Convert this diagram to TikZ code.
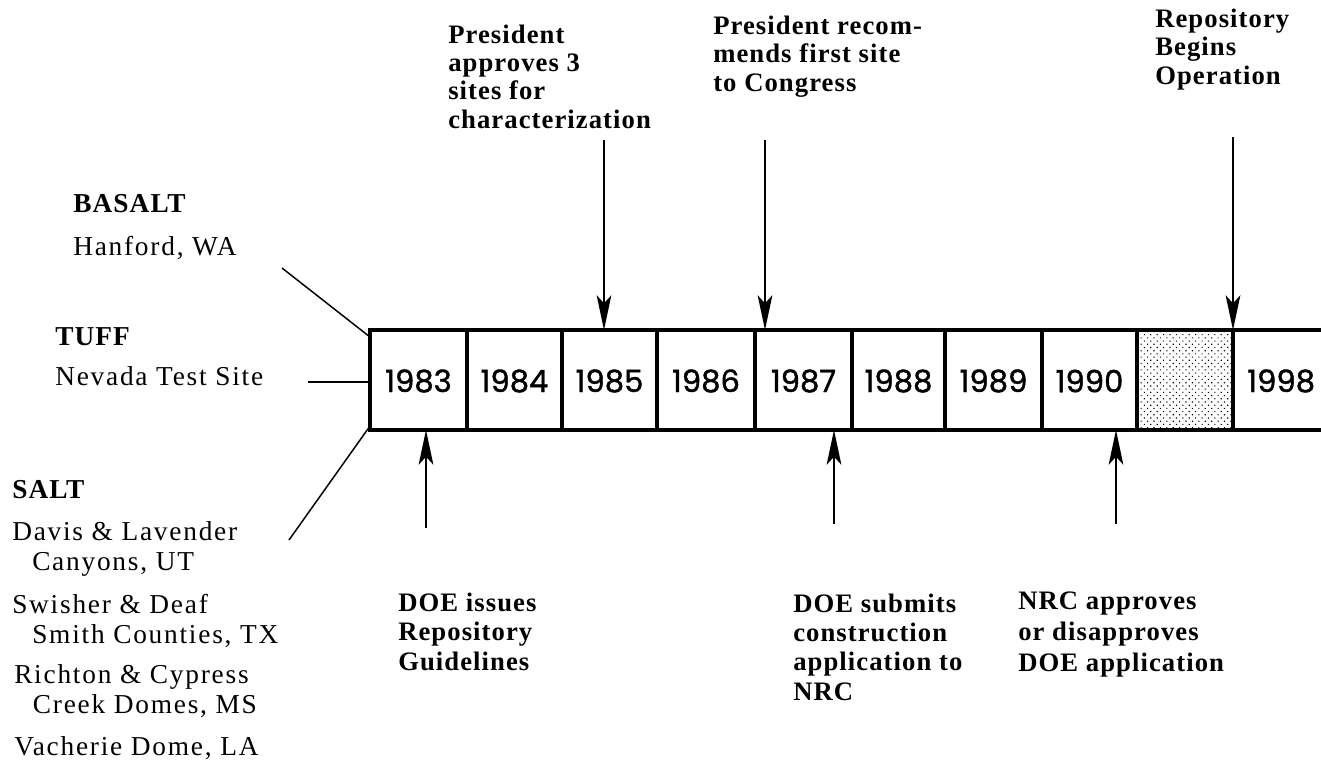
\documentclass[tikz,border=0pt]{standalone}
\usepackage{fontspec}
\setmainfont{Liberation Serif}[LetterSpace=4]
\newfontfamily\labfont{Liberation Serif}[LetterSpace=6.5]
\newfontfamily\yearfont{Poppins}[FakeBold=1.2]
\usetikzlibrary{arrows.meta,patterns.meta}
\begin{document}
\begin{tikzpicture}[x=0.75pt,y=-0.75pt,
  ev/.style={anchor=base west, align=left, inner sep=0pt, font=\fontsize{20}{21.25}\selectfont\bfseries},
  evb/.style={anchor=base west, align=left, inner sep=0pt, font=\fontsize{20}{21.9}\selectfont\bfseries},
  lbl/.style={anchor=base west, align=left, inner sep=0pt, font=\labfont\fontsize{20.5}{22.5}\selectfont},
  hd/.style={anchor=base west, inner sep=0pt, font=\fontsize{20.5}{22.5}\selectfont\bfseries},
  year/.style={inner sep=0pt, font=\yearfont\fontsize{23}{23}\selectfont},
  boxline/.style={line width=2.4pt},
  arr/.style={line width=1.5pt, -{Stealth[length=26pt,width=11pt,inset=6pt]}},
  lead/.style={line width=1.1pt}]
\useasboundingbox (0,0) rectangle (1321,761);

% timeline frame
\coordinate (bl) at (370,430);
\coordinate (tl) at (370,330);
\coordinate (tr) at (1321,330);
\coordinate (br) at (1321,430);
\fill[pattern={Dots[distance=3.4pt,angle=45,radius=0.6pt]}, pattern color=black] (1137,330) rectangle (1233,430);
\draw[boxline] (tr) -- (tl) -- (bl) -- (br);
\foreach \x in {467,562,657,755,852,945,1042,1137,1233}
  \draw[boxline] (\x,330) -- (\x,430);

% years
\node[year] (y83) at (418.5,381) {1983};
\node[year] (y84) at (514.5,381) {1984};
\node[year] (y85) at (609.5,381) {1985};
\node[year] (y86) at (706,381) {1986};
\node[year] (y87) at (803.5,381) {1987};
\node[year] (y88) at (898.5,381) {1988};
\node[year] (y89) at (993.5,381) {1989};
\node[year] (y90) at (1089.5,381) {1990};
\node[year, anchor=west] (y98) at (1247,381) {1998};

% left labels (base = last line)
\node[hd] (basalt) at (73,212) {BASALT};
\node[lbl] (hanford) at (73,255) {Hanford, WA};
\node[hd] (tuff) at (55,345) {TUFF};
\node[lbl] (nevada) at (55,385) {Nevada Test Site};
\node[hd] (salt) at (12,498) {SALT};
\node[lbl] (davis) at (12,570) {Davis \& Lavender\\\hspace*{15pt}Canyons, UT};
\node[lbl] (swisher) at (12,643) {Swisher \& Deaf\\\hspace*{15pt}Smith Counties, TX};
\node[lbl] (richton) at (14,713) {Richton \& Cypress\\\hspace*{14pt}Creek Domes, MS};
\node[lbl] (vacherie) at (14,755) {Vacherie Dome, LA};

\coordinate (lb) at (282,268);
\coordinate (lt) at (308,382);
\coordinate (ls) at (289,540);
\draw[lead] (lb) -- (370,337);
\draw[lead] (lt) -- (370,382);
\draw[lead] (ls) -- (370,426);

% top events (base = last line)
\node[ev] (e85) at (448,128) {President\\approves 3\\sites for\\characterization};
\node[ev] (e87) at (713,91) {President recom-\\mends first site\\to Congress};
\node[ev] (erep) at (1155,84) {Repository\\Begins\\Operation};
\coordinate (s85) at (604,140);
\coordinate (t85) at (604,330);
\coordinate (s87) at (765,140);
\coordinate (t87) at (765,330);
\coordinate (srep) at (1233,137);
\coordinate (trep) at (1233,330);
\draw[arr] (s85) -- (t85);
\draw[arr] (s87) -- (t87);
\draw[arr] (srep) -- (trep);

% bottom events (base = last line)
\node[evb] (e83) at (398,670) {DOE issues\\Repository\\Guidelines};
\node[evb] (e87b) at (793,700) {DOE submits\\construction\\application to\\NRC};
\node[ev, font=\fontsize{20}{23}\selectfont\bfseries] (e90) at (1018,671) {NRC approves\\or disapproves\\DOE application};
\coordinate (s83) at (426,528);
\coordinate (t83) at (426,430);
\coordinate (s87b) at (834,524);
\coordinate (t87b) at (834,430);
\coordinate (s90) at (1116,524);
\coordinate (t90) at (1116,430);
\draw[arr] (s83) -- (t83);
\draw[arr] (s87b) -- (t87b);
\draw[arr] (s90) -- (t90);
\end{tikzpicture}
\end{document}
